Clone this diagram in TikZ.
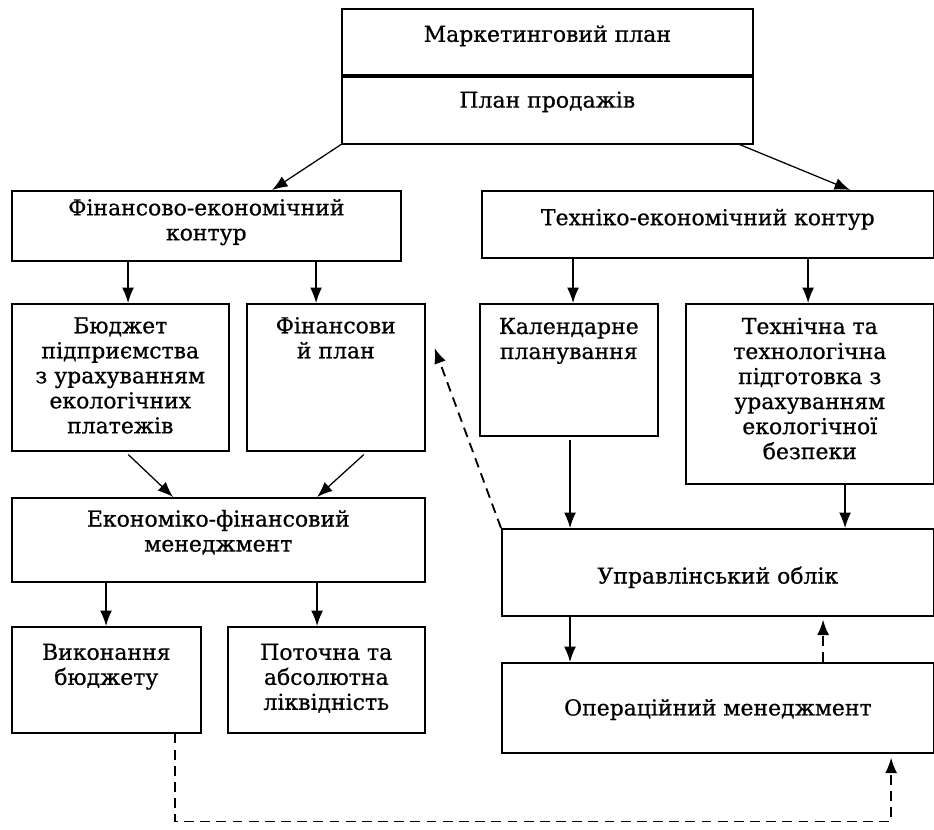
\documentclass[tikz,border=0pt]{standalone}
\usepackage{fontspec}
\setmainfont{DejaVu Serif}[RawFeature={embolden=0.7}]
\usetikzlibrary{arrows.meta}
\setlength{\parskip}{0pt}
% box text: [gap]{width}{height}{text}
\newcommand{\tb}[4][9pt]{\parbox[c][#3][t]{#2}{\centering\vspace*{#1}\strut#4\par}}

\begin{document}
\begin{tikzpicture}[->,>={Latex[length=11pt,width=8.5pt]},line width=0.9pt,x=0.025cm,y=-0.025cm,
  font=\fontsize{15.6}{17.8}\selectfont,
  main node/.style={draw,line width=1.1pt,inner sep=0pt,anchor=north west},
  back/.style={dashed,dash pattern=on 7pt off 4.5pt,line width=1.3pt}]

  \useasboundingbox (0,0) rectangle (934,829);

  \node[main node] (mark) at (341,8) {\tb[11pt]{10.275cm}{1.7cm}{Маркетинговий план}};
  \node[main node] (prod) at (341,76) {\tb[9.5pt]{10.275cm}{1.675cm}{План продажів}};
  \draw[-,line width=2.2pt] (prod.north west) -- (prod.north east);

  \node[main node] (fin) at (11,190) {\tb[5pt]{9.725cm}{1.75cm}{Фінансово-економічний\\контур}};
  \node[main node] (tech) at (481,190) {\tb[12pt]{11.3cm}{1.675cm}{Техніко-економічний контур}};

  \node[main node] (bud) at (11,303) {\tb[8.5pt]{5.425cm}{3.675cm}{Бюджет\\підприємства\\з урахуванням\\екологічних\\платежів}};
  \node[main node] (fplan) at (246,303) {\tb[8.5pt]{4.45cm}{3.675cm}{Фінансови\\й план}};
  \node[main node] (cal) at (479,303) {\tb[9pt]{4.45cm}{3.3cm}{Календарне\\планування}};
  \node[main node] (tprep) at (685,303) {\tb[9pt]{6.2cm}{4.5cm}{Технічна та\\технологічна\\підготовка з\\урахуванням\\екологічної\\безпеки}};

  \node[main node] (econ) at (11,497) {\tb[8pt]{10.325cm}{2.1cm}{Економіко-фінансовий\\менеджмент}};
  \node[main node] (upr) at (501,528) {\tb[26.5pt]{10.8cm}{2.175cm}{Управлінський облік}};

  \node[main node] (vyk) at (11,626) {\tb[11pt]{4.725cm}{2.65cm}{Виконання\\бюджету}};
  \node[main node] (pot) at (227,626) {\tb[11pt]{4.925cm}{2.65cm}{Поточна та\\абсолютна\\ліквідність}};
  \node[main node] (oper) at (501,662) {\tb[25pt]{10.8cm}{2.25cm}{Операційний менеджмент}};

  % solid links
  \draw (prod.south west) -- ([xshift=6.525cm]fin.north west);
  \draw ([xshift=-0.35cm]prod.south east) -- ([xshift=9.225cm]tech.north west);
  \draw ([xshift=2.925cm]fin.south west) coordinate (f1) -- (f1 |- bud.north);
  \draw ([xshift=7.625cm]fin.south west) coordinate (f2) -- (f2 |- fplan.north);
  \draw ([xshift=2.3cm]tech.south west) coordinate (t1) -- (t1 |- cal.north);
  \draw ([xshift=8.175cm]tech.south west) coordinate (t2) -- (t2 |- tprep.north);
  \draw ([shift={(0.2cm,-0.075cm)}]bud.south) -- ([xshift=4.05cm]econ.north west);
  \draw ([shift={(0.7cm,-0.075cm)}]fplan.south) -- ([xshift=7.65cm]econ.north west);
  \draw ([xshift=2.375cm]econ.south west) coordinate (e1) -- (e1 |- vyk.north);
  \draw ([xshift=7.65cm]econ.south west) coordinate (e2) -- (e2 |- pot.north);
  \draw ([shift={(2.275cm,-0.075cm)}]cal.south west) coordinate (c1) -- (c1 |- upr.north);
  \draw ([xshift=4.0cm]tprep.south west) coordinate (p1) -- (p1 |- upr.north);
  \draw ([xshift=1.725cm]upr.south west) coordinate (u1) -- (u1 |- oper.north);

  % dashed feedback
  \draw[back] ([xshift=8.05cm]oper.north west) coordinate (o1) -- ([yshift=-0.075cm]o1 |- upr.south);
  \draw[back] (upr.north west) -- ([shift={(0.225cm,-1.125cm)}]fplan.north east);
  \draw[back] ([xshift=4.1cm]vyk.south west) -- ++(0,88) -| ([shift={(9.75cm,-0.1cm)}]oper.south west);
\end{tikzpicture}
\end{document}
